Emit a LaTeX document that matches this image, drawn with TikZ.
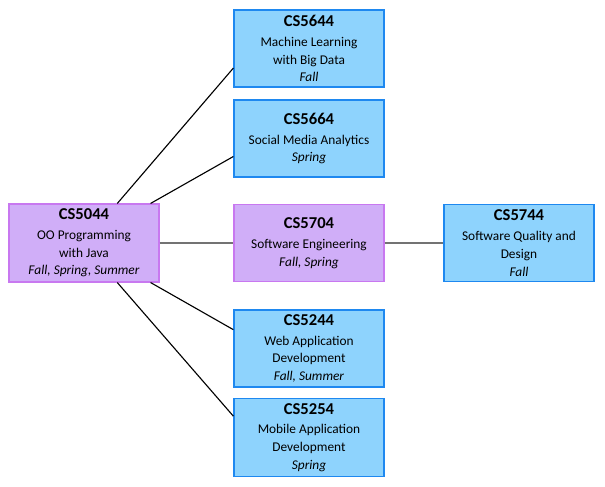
\documentclass[tikz,border=0pt]{standalone}
\usepackage{fontspec}
\setmainfont{Carlito}
\usepackage{xcolor}
\usetikzlibrary{positioning, calc}

\definecolor{crsblue}{HTML}{8ED3FD}
\definecolor{crsblueline}{HTML}{1E88F0}
\definecolor{crspurple}{HTML}{D0AEF8}
\definecolor{crspurpleline}{HTML}{C878F0}

\begin{document}
\begin{tikzpicture}[
    course/.style={rectangle, draw=crsblueline, fill=crsblue, line width=0.9pt, minimum width=3.75cm, minimum height=1.925cm, align=center, font=\fontsize{9.5}{12.6}\selectfont},
    corecourse/.style={course, draw=crspurpleline, fill=crspurple},
    link/.style={black, line width=0.8pt},
    flatlink/.style={gray!90!black, line width=1.4pt}
]
\useasboundingbox (0,0) rectangle (15.125,12.15);

\newcommand{\crs}[3]{{\fontsize{11.8}{12}\selectfont\bfseries #1}\\[1.5pt]#2\\\textit{#3}}

\node[corecourse] (oop) at (2.1,6.075) {\crs{CS5044}{OO Programming\\with Java}{Fall, Spring, Summer}};
\node[course] (ml) at (7.725,10.9375) {\crs{CS5644}{Machine Learning\\with Big Data}{Fall}};
\node[course] (sma) at (7.725,8.6875) {\crs{CS5664}{Social Media Analytics}{Spring}};
\node[corecourse] (se) at (7.725,6.075) {\crs{CS5704}{Software Engineering}{Fall, Spring}};
\node[course] (sqd) at (12.975,6.075) {\crs{CS5744}{Software Quality and\\Design}{Fall}};
\node[course] (web) at (7.725,3.4375) {\crs{CS5244}{Web Application\\Development}{Fall, Summer}};
\node[course] (mob) at (7.725,1.2125) {\crs{CS5254}{Mobile Application\\Development}{Spring}};

% fan out of CS5044
\draw[link] ($(oop.north west)!0.72!(oop.north east)$) -- ($(ml.north west)!0.75!(ml.south west)$);
\draw[link] ($(oop.north west)!0.94!(oop.north east)$) -- ($(sma.north west)!0.73!(sma.south west)$);
\draw[link] ($(oop.south west)!0.94!(oop.south east)$) -- ($(web.north west)!0.26!(web.south west)$);
\draw[link] ($(oop.south west)!0.72!(oop.south east)$) -- ($(mob.north west)!0.23!(mob.south west)$);

\draw[flatlink] (oop) -- (se);
\draw[flatlink] (se) -- (sqd);

\end{tikzpicture}
\end{document}
